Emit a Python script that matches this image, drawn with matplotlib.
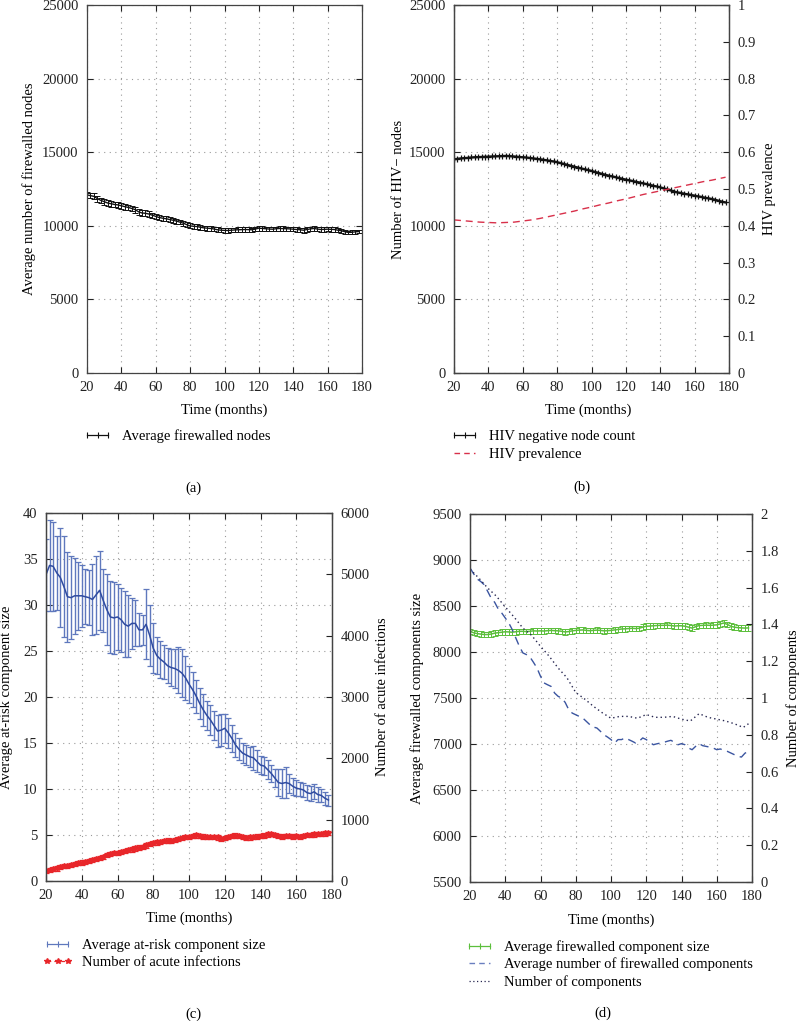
import numpy as np
import matplotlib
matplotlib.use("Agg")
import matplotlib.pyplot as plt
from matplotlib.ticker import FuncFormatter, MultipleLocator
from matplotlib.lines import Line2D

plt.rcParams['font.family'] = ['Liberation Serif', 'DejaVu Serif']
FS = 10.5
plt.rcParams['font.size'] = FS
plt.rcParams['axes.linewidth'] = 0.9
plt.rcParams['axes.edgecolor'] = '#444444'

# ---------------- data ----------------
months = np.arange(20, 180, 2)          # 20..178
months5 = [20, 25, 30, 35, 40, 45, 50, 55, 60, 65, 70, 75, 80, 85, 90, 95, 100,
           105, 110, 115, 120, 125, 130, 135, 140, 145, 150, 155, 160, 165, 170, 175, 178]

# (a) average firewalled nodes
fw_nodes = [12100, 12050, 12000, 11850, 11730, 11640, 11550, 11500, 11450, 11420,
            11360, 11300, 11250, 11180, 11100, 10950, 10870, 10850, 10800, 10720,
            10640, 10560, 10520, 10480, 10430, 10380, 10320, 10250, 10180, 10080,
            9990, 9970, 9950, 9900, 9860, 9840, 9820, 9780, 9730, 9700,
            9690, 9680, 9700, 9720, 9730, 9740, 9750, 9740, 9730, 9780,
            9840, 9820, 9800, 9780, 9770, 9800, 9820, 9810, 9800, 9790,
            9770, 9750, 9730, 9700, 9750, 9790, 9820, 9780, 9750, 9760,
            9770, 9760, 9750, 9700, 9660, 9600, 9550, 9560, 9590, 9610]
fw_nodes_err = [200, 190, 210, 200, 190, 200, 210, 190, 200, 180,
                190, 200, 180, 190, 200, 210, 190, 200, 190, 180,
                190, 180, 170, 180, 170, 160, 170, 160, 170, 160,
                170, 160, 150, 160, 150, 160, 150, 150, 160, 150,
                150, 160, 150, 150, 160, 150, 150, 160, 150, 160,
                170, 160, 150, 160, 150, 150, 160, 150, 140, 150,
                140, 150, 140, 160, 150, 160, 150, 150, 140, 150,
                140, 150, 140, 140, 150, 130, 120, 130, 120, 130]

# (b) HIV negative node count and prevalence
hiv_neg = [14520, 14550, 14580, 14600, 14620, 14640, 14660, 14670, 14680, 14690,
           14700, 14710, 14720, 14730, 14740, 14750, 14740, 14720, 14700, 14680,
           14660, 14640, 14610, 14580, 14550, 14520, 14490, 14450, 14410, 14370,
           14320, 14260, 14200, 14140, 14080, 14020, 13960, 13900, 13840, 13790,
           13730, 13660, 13600, 13530, 13470, 13410, 13360, 13300, 13250, 13190,
           13140, 13090, 13040, 12990, 12940, 12890, 12830, 12780, 12720, 12670,
           12610, 12540, 12470, 12400, 12330, 12270, 12230, 12180, 12140, 12090,
           12050, 12000, 11960, 11910, 11870, 11820, 11770, 11700, 11640, 11590]
hiv_prev = [0.416, 0.414, 0.412, 0.410, 0.409, 0.408, 0.409, 0.410, 0.413, 0.416,
            0.420, 0.425, 0.430, 0.435, 0.440, 0.446, 0.451, 0.457, 0.462, 0.468,
            0.473, 0.479, 0.485, 0.490, 0.495, 0.500, 0.505, 0.510, 0.515, 0.520,
            0.524, 0.529, 0.532]

# (c) at-risk component size and acute infections
atrisk = [33.3, 34.3, 34.2, 33.5, 33.0, 32.0, 30.9, 30.8, 31.0, 31.0,
          31.0, 30.9, 30.8, 30.6, 31.1, 31.6, 30.5, 29.5, 28.7, 28.6,
          28.7, 28.4, 27.9, 27.7, 28.0, 28.0, 27.3, 27.3, 27.9, 26.7,
          25.3, 24.5, 24.1, 23.8, 23.4, 23.2, 23.1, 22.9, 22.6, 22.1,
          21.4, 20.8, 20.1, 19.3, 18.6, 18.0, 17.5, 16.9, 16.3, 16.4,
          16.6, 16.1, 15.5, 14.8, 14.3, 13.9, 13.7, 13.5, 13.4, 13.0,
          12.6, 12.5, 12.1, 11.7, 11.2, 10.7, 10.6, 10.7, 10.6, 10.3,
          10.1, 10.0, 9.9, 9.6, 9.5, 9.7, 9.4, 9.3, 9.0, 8.8]
atrisk_err = [3.9, 4.9, 4.8, 4.0, 5.4, 5.5, 4.9, 4.5, 4.1, 3.7,
              3.4, 3.0, 3.0, 3.9, 4.2, 4.3, 3.4, 3.9, 3.9, 3.9,
              3.6, 3.5, 3.6, 3.4, 2.8, 2.5, 1.8, 1.6, 3.8, 3.3,
              2.7, 2.0, 2.0, 1.8, 1.9, 2.0, 2.1, 2.5, 2.6, 2.4,
              2.0, 1.9, 1.8, 1.7, 1.7, 1.6, 1.6, 1.6, 1.7, 1.7,
              1.6, 1.6, 1.5, 1.3, 1.2, 1.1, 1.1, 1.1, 1.3, 1.2,
              1.0, 1.0, 1.0, 0.9, 1.0, 1.5, 1.6, 1.7, 1.0, 0.9,
              0.9, 0.8, 0.8, 0.8, 0.8, 0.8, 0.8, 0.7, 0.7, 0.6]
acute = [165, 175, 190, 205, 225, 240, 250, 262, 275, 290,
         300, 315, 330, 345, 355, 370, 395, 420, 440, 455,
         460, 470, 490, 505, 515, 530, 545, 560, 580, 600,
         620, 630, 640, 650, 660, 655, 665, 685, 700, 712,
         720, 735, 742, 735, 725, 720, 715, 722, 710, 690,
         700, 720, 735, 740, 730, 715, 700, 710, 720, 725,
         730, 740, 760, 770, 750, 730, 725, 730, 735, 725,
         730, 720, 735, 745, 750, 760, 765, 770, 775, 780]
acute_err = [35] * 80

# (d) firewalled components
fw_size = [8225, 8210, 8200, 8195, 8190, 8190, 8195, 8205, 8210, 8215,
           8220, 8218, 8215, 8220, 8225, 8225, 8222, 8225, 8230, 8228,
           8230, 8228, 8232, 8235, 8232, 8230, 8225, 8218, 8222, 8230,
           8235, 8238, 8240, 8235, 8232, 8235, 8238, 8235, 8230, 8232,
           8235, 8240, 8245, 8250, 8252, 8255, 8258, 8255, 8258, 8270,
           8280, 8282, 8285, 8288, 8290, 8290, 8292, 8288, 8282, 8285,
           8285, 8280, 8270, 8260, 8275, 8288, 8290, 8292, 8290, 8292,
           8295, 8305, 8315, 8300, 8280, 8270, 8265, 8262, 8260, 8262]
fw_size_err = [30] * 80
fw_count = [1.707, 1.676, 1.647, 1.634, 1.616, 1.58, 1.543, 1.52, 1.484, 1.462,
            1.435, 1.408, 1.371, 1.326, 1.281, 1.245, 1.236, 1.223, 1.194, 1.163,
            1.118, 1.082, 1.072, 1.063, 1.027, 1.009, 1.0, 0.976, 0.937, 0.918,
            0.909, 0.9, 0.891, 0.873, 0.855, 0.842, 0.837, 0.819, 0.80, 0.788,
            0.774, 0.755, 0.774, 0.774, 0.783, 0.774, 0.765, 0.755, 0.765, 0.783,
            0.774, 0.76, 0.746, 0.751, 0.755, 0.759, 0.765, 0.77, 0.759, 0.746,
            0.752, 0.746, 0.728, 0.719, 0.737, 0.752, 0.741, 0.737, 0.733, 0.728,
            0.719, 0.723, 0.716, 0.71, 0.701, 0.692, 0.683, 0.679, 0.70, 0.71]
n_components = [1.70, 1.652, 1.598, 1.553, 1.495, 1.44, 1.38, 1.34, 1.281, 1.226,
                1.163, 1.11, 1.03, 0.995, 0.955, 0.92, 0.89, 0.90, 0.90, 0.89,
                0.91, 0.895, 0.895, 0.9, 0.885, 0.875, 0.915, 0.895, 0.885, 0.875,
                0.86, 0.84, 0.86]

# ---------------- layout helpers ----------------
W, H = 800, 1021
fig = plt.figure(figsize=(W / 100, H / 100), dpi=100)


def rect(l, t, r, b):
    return [l / W, 1 - b / H, (r - l) / W, (b - t) / H]


def fx(x):
    return x / W


def fy(y):
    return 1 - y / H


GRID = dict(color='#9a9a9a', linestyle=(0, (1, 4)), linewidth=0.8)
gfmt = FuncFormatter(lambda v, p: '%g' % v)


def style(ax, right=True):
    ax.tick_params(direction='in', length=4, width=0.8, top=True, right=right,
                   labelsize=FS, pad=6, colors='#222222')
    ax.grid(True, **GRID)
    ax.set_axisbelow(True)
    ax.set_xlim(20, 180)
    ax.xaxis.set_major_locator(MultipleLocator(20))


def style_twin(ax2):
    ax2.tick_params(direction='in', length=4, width=0.8, labelsize=FS, pad=6,
                    colors='#222222')


def proxy(color, **kw):
    return Line2D([], [], color=color, lw=0.9, marker='|', ms=5, mew=0.8, **kw)


LEG = dict(bbox_transform=fig.transFigure, frameon=False, fontsize=FS,
           borderaxespad=0, borderpad=0, loc='upper left')

# ---------------- (a) ----------------
axa = fig.add_axes(rect(87, 5, 362, 373))
style(axa)
axa.set_ylim(0, 25000)
axa.yaxis.set_major_locator(MultipleLocator(5000))
axa.errorbar(months, fw_nodes, yerr=fw_nodes_err, color='#111111', lw=1.0,
             elinewidth=0.7, capsize=2.2, capthick=0.7)
fig.text(fx(29), fy(189), 'Average number of firewalled nodes', rotation=90,
         ha='center', va='center', fontsize=FS)
fig.text(fx(224), fy(410), 'Time (months)', ha='center', va='center', fontsize=FS)
fig.text(fx(193), fy(488), '(a)', ha='center', va='center', fontsize=FS)
axa.legend([proxy('#111111')], ['Average firewalled nodes'], numpoints=3,
           bbox_to_anchor=(fx(83), fy(429)), handlelength=2.0, handletextpad=0.7,
           **LEG)

# ---------------- (b) ----------------
axb = fig.add_axes(rect(454, 5, 729, 373))
style(axb, right=False)
axb.set_ylim(0, 25000)
axb.yaxis.set_major_locator(MultipleLocator(5000))
axb.plot(months, hiv_neg, color='#111111', lw=1.6, marker='+', ms=4.5, mew=0.9)
axb2 = axb.twinx()
style_twin(axb2)
axb2.set_ylim(0, 1)
axb2.yaxis.set_major_locator(MultipleLocator(0.1))
axb2.yaxis.set_major_formatter(gfmt)
axb2.plot(months5, hiv_prev, color='#d8304a', lw=1.0, dashes=(5, 3.5))
fig.text(fx(398), fy(189), 'Number of HIV\u2212 nodes', rotation=90,
         ha='center', va='center', fontsize=FS)
fig.text(fx(770), fy(189), 'HIV prevalence', rotation=90,
         ha='center', va='center', fontsize=FS)
fig.text(fx(588), fy(410), 'Time (months)', ha='center', va='center', fontsize=FS)
fig.text(fx(582), fy(487), '(b)', ha='center', va='center', fontsize=FS)
axb2.legend([proxy('#111111'),
             Line2D([], [], color='#d8304a', lw=1.0, dashes=(4, 3))],
            ['HIV negative node count', 'HIV prevalence'], numpoints=3,
            bbox_to_anchor=(fx(450), fy(430)), handlelength=2.0,
            handletextpad=0.7, labelspacing=0.3, **LEG)

# ---------------- (c) ----------------
axc = fig.add_axes(rect(46, 513, 332, 881))
style(axc, right=False)
axc.set_ylim(0, 40)
axc.yaxis.set_major_locator(MultipleLocator(5))
axc.errorbar(months, atrisk, yerr=atrisk_err, color='#2f4ba0', lw=1.1,
             ecolor='#5f78bd', elinewidth=1.0, capsize=2.2, capthick=0.9)
axc2 = axc.twinx()
style_twin(axc2)
axc2.set_ylim(0, 6000)
axc2.yaxis.set_major_locator(MultipleLocator(1000))
axc2.errorbar(months, acute, yerr=acute_err, color='#e8262a', lw=1.2,
              marker='*', ms=4, elinewidth=0.9, capsize=2.0, capthick=0.9)
fig.text(fx(7), fy(697), 'Average at-risk component size', rotation=90,
         ha='center', va='center', fontsize=FS)
fig.text(fx(383), fy(697), 'Number of acute infections', rotation=90,
         ha='center', va='center', fontsize=FS)
fig.text(fx(189), fy(918), 'Time (months)', ha='center', va='center', fontsize=FS)
fig.text(fx(193), fy(1014), '(c)', ha='center', va='center', fontsize=FS)
axc2.legend([proxy('#5f78bd'),
             Line2D([], [], color='#e8262a', lw=0.9, marker='*', ms=4,
                    dashes=(3, 2.5))],
            ['Average at-risk component size', 'Number of acute infections'],
            numpoints=3, bbox_to_anchor=(fx(43), fy(939)), handlelength=2.0,
            handletextpad=0.7, labelspacing=0.25, **LEG)

# ---------------- (d) ----------------
axd = fig.add_axes(rect(470, 514, 752, 882))
style(axd, right=False)
axd.set_ylim(5500, 9500)
axd.yaxis.set_major_locator(MultipleLocator(500))
axd.errorbar(months, fw_size, yerr=fw_size_err, color='#5cbf3c', lw=1.1,
             elinewidth=0.7, capsize=2.2, capthick=0.7)
axd2 = axd.twinx()
style_twin(axd2)
axd2.set_ylim(0, 2)
axd2.yaxis.set_major_locator(MultipleLocator(0.2))
axd2.yaxis.set_major_formatter(gfmt)
axd2.plot(months, fw_count, color='#3b55a0', lw=1.0, dashes=(6, 4))
axd2.plot(months5, n_components, color='#262650', lw=1.0, dashes=(1, 2.2))
fig.text(fx(417), fy(698), 'Average firewalled components size', rotation=90,
         ha='center', va='center', fontsize=FS)
fig.text(fx(793), fy(698), 'Number of components', rotation=90,
         ha='center', va='center', fontsize=FS)
fig.text(fx(611), fy(920), 'Time (months)', ha='center', va='center', fontsize=FS)
fig.text(fx(603), fy(1013), '(d)', ha='center', va='center', fontsize=FS)
axd2.legend([proxy('#5cbf3c'),
             Line2D([], [], color='#6a7fc0', lw=1.0, dashes=(4, 3)),
             Line2D([], [], color='#262650', lw=0.9, dashes=(1, 2))],
            ['Average firewalled component size',
             'Average number of firewalled components',
             'Number of components'],
            numpoints=3, bbox_to_anchor=(fx(465), fy(940)), handlelength=2.0,
            handletextpad=0.7, labelspacing=0.25, **LEG)

fig.savefig('out.png', dpi=100)
